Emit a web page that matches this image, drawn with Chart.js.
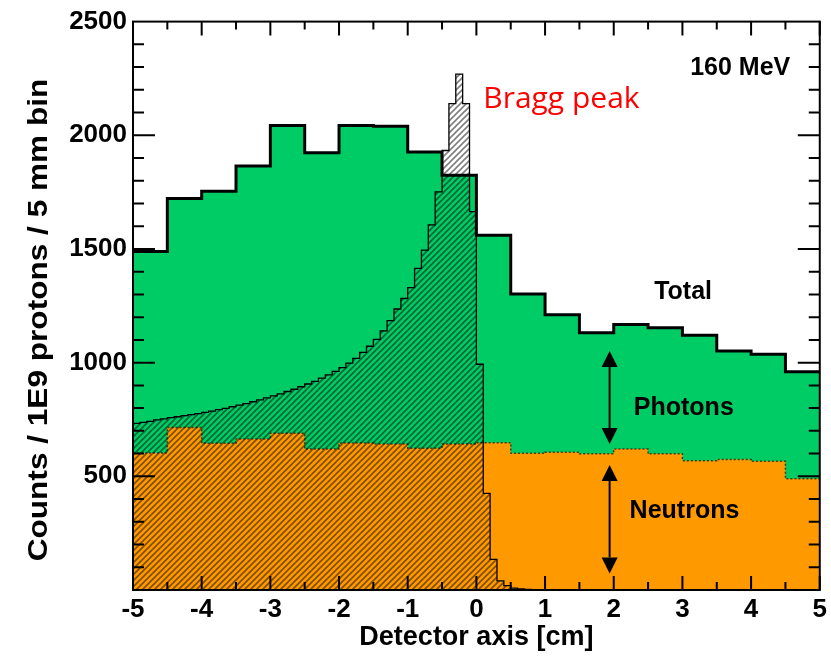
<!DOCTYPE html>
<html>
<head>
<meta charset="utf-8">
<script src="https://cdn.jsdelivr.net/npm/chart.js@4.4.1/dist/chart.umd.min.js"></script>
<style>
  html, body { margin: 0; padding: 0; background: #ffffff; }
  canvas { display: block; }
</style>
</head>
<body>
<canvas id="c" width="831" height="661"></canvas>
<script>
// ---- Binning -------------------------------------------------------------
// Coarse histograms: 20 bins of 5 mm over [-5, 5] cm
const coarseStart = -5;
const coarseWidth = 0.5;
// Fine histogram: 100 bins of 1 mm over [-5, 5] cm
const fineStart = -5;
const fineWidth = 0.1;

// ---- Histogram contents (counts / 1E9 protons / bin) ----------------------
const totalCounts = [
  1489, 1722, 1754, 1865, 2043, 1923, 2043, 2040, 1926, 1824,
  1560, 1302, 1211, 1131, 1168, 1153, 1120, 1051, 1037, 960
];
const neutronCounts = [
  603, 715, 645, 664, 689, 620, 647, 642, 623, 642,
  648, 601, 606, 599, 620, 599, 569, 574, 566, 489
];
// Proton depth profile, ending in the Bragg peak just before 0 cm
const braggProfile = [
  733, 737, 742, 748, 753, 758, 762, 767, 771, 776,
  781, 787, 793, 799, 806, 813, 820, 828, 836, 845,
  854, 863, 873, 883, 894, 906, 918, 932, 946, 962,
  978, 998, 1019, 1045, 1072, 1102, 1140, 1185, 1236, 1282,
  1330, 1415, 1495, 1606, 1751, 1933, 2139, 2269, 2139, 1664,
  993, 425, 135, 40, 19, 8, 5, 3, 2, 2,
  1, 1, 1, 1, 1, 0, 0, 0, 0, 0,
  0, 0, 0, 0, 0, 0, 0, 0, 0, 0,
  0, 0, 0, 0, 0, 0, 0, 0, 0, 0,
  0, 0, 0, 0, 0, 0, 0, 0, 0, 0
];

// ---- Axis ticks ------------------------------------------------------------
const xTickValues = [-5, -4, -3, -2, -1, 0, 1, 2, 3, 4, 5];
const yTickValues = [500, 1000, 1500, 2000, 2500];
const yAxisTitle = 'Counts / 1E9 protons / 5 mm bin';
const xAxisTitle = 'Detector axis [cm]';

// ---- Annotations (data coordinates) -----------------------------------------
const notes = {
  energy:  { text: '160 MeV', x: 4.57, y: 2294 },
  bragg:   { text: 'Bragg peak', x: 0.10, y: 2122 },
  total:   { text: 'Total', x: 3.01, y: 1309 },
  photons: { text: 'Photons', x: 3.02, y: 801 },
  neutrons:{ text: 'Neutrons', x: 3.03, y: 346 },
  arrowX: 1.94,
  photonArrow: [1051, 642],
  neutronArrow: [550, 73]
};

const FONT = '"Liberation Sans", Arial, Helvetica, sans-serif';

// Turn bin contents into step-line points (left edges + closing right edge)
function stepPoints(start, width, values) {
  const pts = values.map((v, i) => ({ x: start + i * width, y: v }));
  pts.push({ x: start + values.length * width, y: values[values.length - 1] });
  return pts;
}

const canvas = document.getElementById('c');
const ctx = canvas.getContext('2d');

// Diagonal "/" hatching used for the proton profile
function makeHatch() {
  const s = 6;
  const tile = document.createElement('canvas');
  tile.width = s; tile.height = s;
  const g = tile.getContext('2d');
  g.strokeStyle = 'rgba(0,0,0,0.5)';
  g.lineWidth = 1.6;
  g.beginPath();
  g.moveTo(0, s); g.lineTo(s, 0);
  g.moveTo(-s / 2, s / 2); g.lineTo(s / 2, -s / 2);
  g.moveTo(s / 2, s * 1.5); g.lineTo(s * 1.5, s / 2);
  g.stroke();
  return ctx.createPattern(tile, 'repeat');
}

// Frame with inward-pointing ticks on all four sides
const frameTicks = {
  id: 'frameTicks',
  afterDatasetsDraw(chart) {
    const { ctx: c, chartArea: a, scales: { x, y } } = chart;
    c.save();
    c.strokeStyle = '#000';
    c.lineWidth = 2;
    c.beginPath();
    const xMinor = [];
    for (let i = 0; i < xTickValues.length - 1; i++) xMinor.push((xTickValues[i] + xTickValues[i + 1]) / 2);
    xTickValues.forEach(v => {
      const px = x.getPixelForValue(v);
      c.moveTo(px, a.bottom); c.lineTo(px, a.bottom - 14);
      c.moveTo(px, a.top); c.lineTo(px, a.top + 14);
    });
    xMinor.forEach(v => {
      const px = x.getPixelForValue(v);
      c.moveTo(px, a.bottom); c.lineTo(px, a.bottom - 8);
      c.moveTo(px, a.top); c.lineTo(px, a.top + 8);
    });
    for (let v = 100; v < 2500; v += 100) {
      const major = yTickValues.includes(v);
      const len = major ? 22 : 11;
      const py = y.getPixelForValue(v);
      c.moveTo(a.left, py); c.lineTo(a.left + len, py);
      c.moveTo(a.right, py); c.lineTo(a.right - len, py);
    }
    c.stroke();
    c.strokeRect(a.left, a.top, a.right - a.left, a.bottom - a.top);
    c.restore();
  }
};

// Vertical axis title, slightly stretched along its length
const yTitle = {
  id: 'yTitle',
  afterDraw(chart) {
    const c = chart.ctx;
    c.save();
    c.translate(40, 320);
    c.rotate(-Math.PI / 2);
    c.scale(1.17, 1);
    c.fillStyle = '#000';
    c.font = 'bold 27px ' + FONT;
    c.textAlign = 'center';
    c.textBaseline = 'middle';
    c.fillText(yAxisTitle, 0, 0);
    c.restore();
  }
};

// Labels and double-headed arrows inside the frame
const annotations = {
  id: 'annotations',
  afterDraw(chart) {
    const { ctx: c, scales: { x, y } } = chart;
    c.save();
    c.fillStyle = '#000';
    c.textBaseline = 'middle';

    c.font = 'bold 25px ' + FONT;
    c.textAlign = 'right';
    c.fillText(notes.energy.text, x.getPixelForValue(notes.energy.x), y.getPixelForValue(notes.energy.y));

    c.textAlign = 'center';
    [notes.total, notes.photons, notes.neutrons].forEach(n => {
      c.fillText(n.text, x.getPixelForValue(n.x), y.getPixelForValue(n.y));
    });

    c.fillStyle = '#ff0000';
    c.font = '30px "Open Sans", "Noto Sans", sans-serif';
    c.textAlign = 'left';
    c.textBaseline = 'alphabetic';
    c.fillText(notes.bragg.text, x.getPixelForValue(notes.bragg.x), y.getPixelForValue(notes.bragg.y));

    const ax = x.getPixelForValue(notes.arrowX);
    const drawArrow = (v1, v2) => {
      const yTop = y.getPixelForValue(v1);
      const yBot = y.getPixelForValue(v2);
      const hw = 8, hh = 16;
      c.strokeStyle = '#000';
      c.fillStyle = '#000';
      c.lineWidth = 2;
      c.beginPath();
      c.moveTo(ax, yTop + hh); c.lineTo(ax, yBot - hh);
      c.stroke();
      c.beginPath();
      c.moveTo(ax, yTop); c.lineTo(ax - hw, yTop + hh); c.lineTo(ax + hw, yTop + hh); c.closePath();
      c.fill();
      c.beginPath();
      c.moveTo(ax, yBot); c.lineTo(ax - hw, yBot - hh); c.lineTo(ax + hw, yBot - hh); c.closePath();
      c.fill();
    };
    drawArrow(notes.photonArrow[0], notes.photonArrow[1]);
    drawArrow(notes.neutronArrow[0], notes.neutronArrow[1]);
    c.restore();
  }
};

const totalPts = stepPoints(coarseStart, coarseWidth, totalCounts);
const neutronPts = stepPoints(coarseStart, coarseWidth, neutronCounts);
const braggPts = stepPoints(fineStart, fineWidth, braggProfile);

const tickFont = { family: FONT, size: 26, weight: 'bold' };

new Chart(ctx, {
  type: 'line',
  data: {
    datasets: [
      { label: 'Photons + Neutrons', data: totalPts, stepped: 'before', fill: 'origin',
        backgroundColor: '#00cc66', borderColor: 'rgba(0,0,0,0)', borderWidth: 0,
        pointRadius: 0, order: 4 },
      { label: 'Neutrons', data: neutronPts, stepped: 'before', fill: 'origin',
        backgroundColor: '#ff9900', borderColor: 'rgba(60,40,0,0.85)', borderWidth: 1.5,
        borderDash: [2, 2], pointRadius: 0, order: 3 },
      { label: 'Proton profile', data: braggPts, stepped: 'before', fill: 'origin',
        backgroundColor: makeHatch(), borderColor: '#000', borderWidth: 1.3,
        pointRadius: 0, order: 2 },
      { label: 'Total', data: totalPts, stepped: 'before', fill: false,
        borderColor: '#000', borderWidth: 3, pointRadius: 0, order: 1 }
    ]
  },
  options: {
    responsive: false,
    animation: false,
    devicePixelRatio: 1,
    layout: { padding: { top: 19, right: 8, left: 0, bottom: 0 } },
    plugins: { legend: { display: false }, tooltip: { enabled: false } },
    scales: {
      x: {
        type: 'linear', min: -5, max: 5,
        ticks: { stepSize: 1, autoSkip: false, maxRotation: 0, padding: 4,
                 color: '#000', font: tickFont, callback: v => String(v) },
        grid: { display: false, drawTicks: false },
        border: { display: false },
        title: { display: true, text: xAxisTitle, color: '#000',
                 font: { family: FONT, size: 27, weight: 'bold' }, padding: { top: 0, bottom: 7 } },
        afterFit(s) { s.height = 71; }
      },
      y: {
        type: 'linear', min: 0, max: 2500,
        ticks: { stepSize: 500, padding: 6, color: '#000', font: tickFont,
                 callback: v => (v === 0 ? '' : String(v)) },
        grid: { display: false, drawTicks: false },
        border: { display: false },
        afterFit(s) { s.width = 133; }
      }
    }
  },
  plugins: [frameTicks, yTitle, annotations]
});
</script>
</body>
</html>
